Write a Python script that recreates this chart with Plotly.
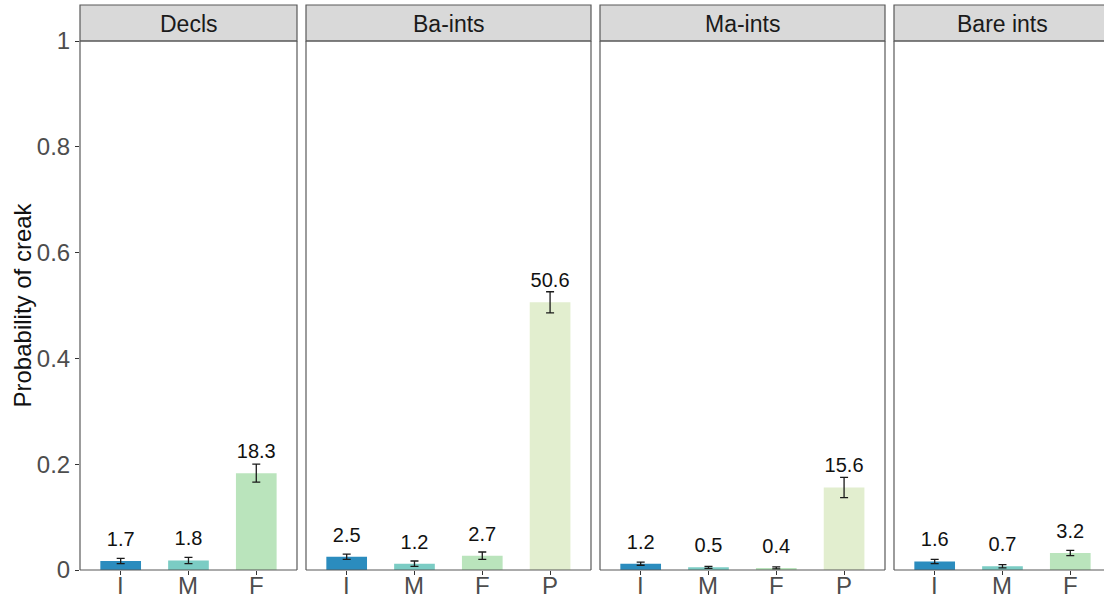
import plotly.graph_objects as go

# ---- data ----
panels = ["Decls", "Ba-ints", "Ma-ints", "Bare ints"]
categories = [["I", "M", "F"], ["I", "M", "F", "P"], ["I", "M", "F", "P"], ["I", "M", "F"]]
percent = [[1.7, 1.8, 18.3], [2.5, 1.2, 2.7, 50.6], [1.2, 0.5, 0.4, 15.6], [1.6, 0.7, 3.2]]
err = [[0.005, 0.006, 0.017], [0.005, 0.005, 0.007, 0.020], [0.003, 0.002, 0.002, 0.019], [0.004, 0.003, 0.005]]
y_ticks = [0, 0.2, 0.4, 0.6, 0.8, 1.0]
y_ticktext = ["0", "0.2", "0.4", "0.6", "0.8", "1"]
cat_colors = {"I": "#2B8CBE", "M": "#7BCCC4", "F": "#BAE4BC", "P": "#E2EECF"}

# ---- layout geometry (pixels) ----
W, H = 1104, 598
panel_px = [(80, 297), (306, 591), (600, 885), (894, 1111)]
unit_px = 67.8
plot_top, plot_bot = 41, 570
strip_top = 5
xlabel_center = 585

FONT = "Liberation Sans, Arial, sans-serif"
BORDER = "#595959"

def fx(px):
    return px / W

def fy(py):
    return 1 - py / H

fig = go.Figure()
shapes = []
annotations = []
layout = {}

for i, name in enumerate(panels):
    ax = "" if i == 0 else str(i + 1)
    cats = categories[i]
    vals = [p / 100 for p in percent[i]]
    x0p, x1p = panel_px[i]
    clip_right = min(x1p, W)
    rng = [-0.6, -0.6 + (clip_right - x0p) / unit_px]

    fig.add_trace(go.Bar(
        x=cats, y=vals, width=0.6,
        marker=dict(color=[cat_colors[c] for c in cats], line=dict(width=0)),
        error_y=dict(type="data", array=err[i], visible=True, color="#1a1a1a", thickness=1.3, width=4),
        xaxis="x" + ax, yaxis="y" + ax, showlegend=False, hoverinfo="skip",
    ))
    fig.add_trace(go.Scatter(
        x=cats, y=[v + 0.038 for v in vals], mode="text",
        text=[f"{p:.1f}" for p in percent[i]],
        textfont=dict(family=FONT, size=20, color="#111111"),
        textposition="middle center",
        xaxis="x" + ax, yaxis="y" + ax, showlegend=False, hoverinfo="skip",
    ))

    layout["xaxis" + ax] = dict(
        domain=[fx(x0p), fx(clip_right)], range=rng, type="category",
        anchor="y" + ax, showgrid=False, zeroline=False, showline=False,
        ticks="outside", ticklen=4, tickcolor="#333333", tickwidth=1,
        showticklabels=False,
        categoryorder="array", categoryarray=cats, fixedrange=True, automargin=False,
    )
    for c in cats:
        annotations.append(dict(text=c, xref="x" + ax, yref="paper", x=c, y=fy(xlabel_center),
                                xanchor="center", yanchor="middle", showarrow=False,
                                font=dict(family=FONT, size=24, color="#4D4D4D")))
    ydict = dict(
        domain=[fy(plot_bot), fy(plot_top)], range=[0, 1], anchor="x" + ax,
        showgrid=False, zeroline=False, showline=False, fixedrange=True, automargin=False,
    )
    if i == 0:
        ydict.update(tickvals=y_ticks, ticktext=y_ticktext, ticks="outside", ticklen=4,
                     tickcolor="#333333", tickwidth=1,
                     tickfont=dict(family=FONT, size=24, color="#4D4D4D"))
    else:
        ydict.update(showticklabels=False, ticks="")
    layout["yaxis" + ax] = ydict

    # strip background
    shapes.append(dict(type="rect", xref="paper", yref="paper",
                       x0=fx(x0p), x1=fx(x1p), y0=fy(plot_top), y1=fy(strip_top),
                       fillcolor="#D9D9D9", line=dict(color=BORDER, width=1.2), layer="below"))
    # panel border lines (left, top, bottom, right)
    lines = [
        (x0p, plot_top, x0p, plot_bot),
        (x0p, plot_top, x1p, plot_top),
        (x0p, plot_bot, x1p, plot_bot),
        (x1p, plot_top, x1p, plot_bot),
    ]
    for (a, b, c, d) in lines:
        if a > W and c > W:
            continue
        a, c = min(a, W), min(c, W)
        shapes.append(dict(type="line", xref="paper", yref="paper",
                           x0=fx(a), y0=fy(b), x1=fx(c), y1=fy(d),
                           line=dict(color=BORDER, width=1.2), layer="above"))
    annotations.append(dict(text=name, xref="paper", yref="paper",
                            x=fx((x0p + x1p) / 2), y=fy((plot_top + strip_top) / 2 + 1),
                            xanchor="center", yanchor="middle", showarrow=False,
                            font=dict(family=FONT, size=23, color="#1A1A1A")))

annotations.append(dict(text="Probability of creak", xref="paper", yref="paper",
                        x=fx(22), y=fy((plot_top + plot_bot) / 2), textangle=-90,
                        xanchor="center", yanchor="middle", showarrow=False,
                        font=dict(family=FONT, size=24, color="#111111")))

fig.update_layout(
    width=W, height=H,
    margin=dict(l=0, r=0, t=0, b=0, pad=0),
    paper_bgcolor="white", plot_bgcolor="white",
    shapes=shapes, annotations=annotations,
    **layout,
)

fig.write_html("out.html", config={"displayModeBar": False},
               post_script="document.body.style.margin='0';document.body.style.overflow='hidden';")
